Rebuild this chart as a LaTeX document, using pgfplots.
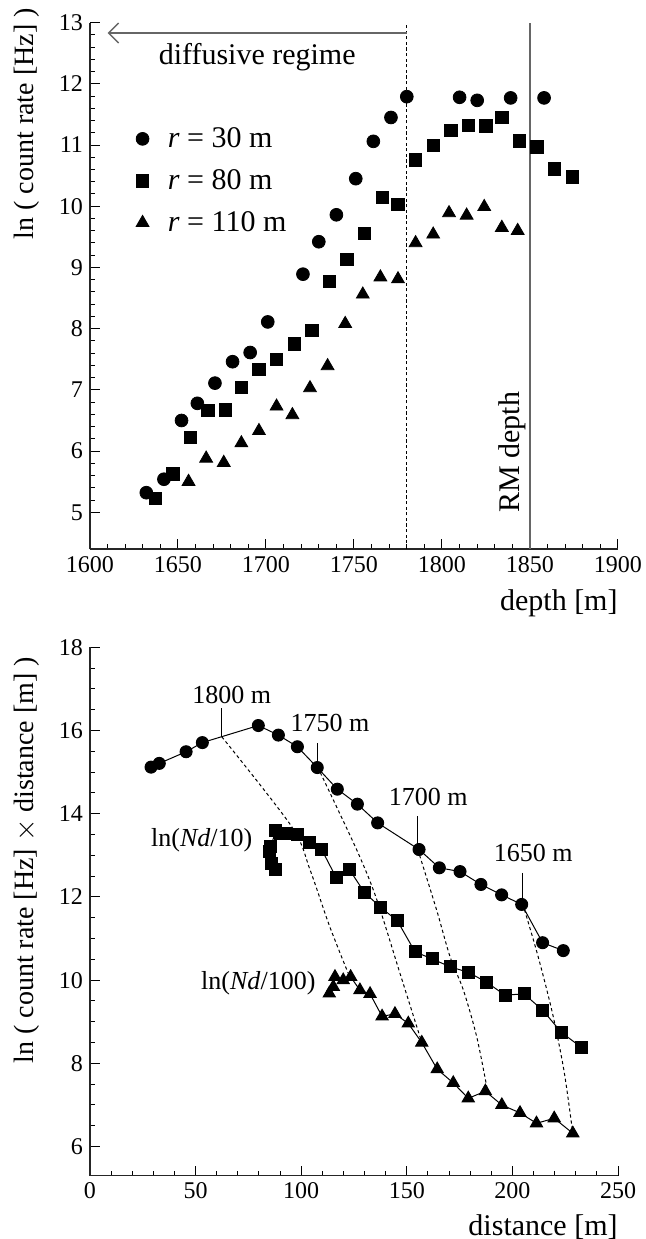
\documentclass[border=0pt]{standalone}
\usepackage{fontspec}
\setmainfont{Liberation Serif}
\usepackage{pgfplots}
\pgfplotsset{compat=1.18}
\usetikzlibrary{arrows.meta}

\newcommand{\tickfont}{\fontsize{12}{14}\selectfont}
\newcommand{\labfont}{\fontsize{15}{18}\selectfont}
\newcommand{\ylabfont}{\fontsize{14}{17}\selectfont}
\newcommand{\annfont}{\fontsize{13}{15}\selectfont}

\pgfplotsset{
  myaxis/.style={
    scale only axis, width=264pt,
    axis x line=bottom, axis y line=left,
    axis line style={-, line width=0.6pt, black!85},
    tick align=inside, major tick length=5pt, minor tick length=2.5pt,
    every tick/.style={black, line width=0.5pt},
    tick label style={font=\tickfont},
    /pgf/number format/assume math mode=true,
    /pgf/number format/set thousands separator={},
    clip=false,
    xlabel style={font=\labfont, inner sep=0pt, anchor=east, at={(axis description cs:1,0)}},
    ylabel style={font=\ylabfont, anchor=center},
  }
}

\begin{document}
\begin{tikzpicture}
\path[use as bounding box] (-45pt,-345pt) rectangle (277.5pt,274.5pt);

% ---------------- top panel ----------------
\begin{axis}[myaxis, height=263.2pt,
  xmin=1600, xmax=1900, ymin=4.4, ymax=13,
  xtick={1600,1650,...,1900}, minor x tick num=4,
  ytick={5,6,...,13}, minor y tick num=4,
  xlabel={depth [m]}, ylabel={ln ( count rate [Hz] )},
  xlabel style={yshift=-27pt},
  ylabel style={at={(axis description cs:-0.119,0.808)}},
  legend style={draw=none, fill=none, font=\labfont, at={(axis cs:1626,11.36)}, anchor=north west,
    row sep=5.5pt, column sep=7.5pt, inner sep=0pt},
  legend cell align=left,
]
\addplot[only marks, mark=*, mark size=3.2pt, black] coordinates {
(1632,5.32)(1642,5.54)(1652,6.50)(1661,6.78)(1671,7.11)(1681,7.46)(1691,7.61)(1701,8.11)
(1721,8.89)(1730,9.42)(1740,9.86)(1751,10.45)(1761,11.06)(1771,11.45)(1780,11.79)
(1810,11.78)(1820,11.73)(1839,11.77)(1858,11.77)};
\addlegendentry{\textit{r} = 30 m}
\addplot[only marks, mark=square*, mark size=3.1pt, black] coordinates {
(1637,5.23)(1647,5.63)(1657,6.22)(1667,6.66)(1677,6.67)(1686,7.04)(1696,7.33)(1706,7.50)
(1716,7.75)(1726,7.97)(1736,8.77)(1746,9.13)(1756,9.56)(1766,10.14)(1775,10.03)(1785,10.76)
(1795,10.99)(1805,11.24)(1815,11.32)(1825,11.31)(1834,11.45)(1844,11.07)(1854,10.97)
(1864,10.61)(1874,10.48)};
\addlegendentry{\textit{r} = 80 m}
\addplot[only marks, mark=triangle*, mark size=3.7pt, black] coordinates {
(1656,5.50)(1666,5.88)(1676,5.81)(1686,6.13)(1696,6.33)(1706,6.73)(1715,6.59)(1725,7.03)
(1735,7.39)(1745,8.08)(1755,8.56)(1765,8.84)(1775,8.81)(1785,9.40)(1795,9.54)(1804,9.89)
(1814,9.85)(1824,9.99)(1834,9.65)(1843,9.60)};
\addlegendentry{\textit{r} = 110 m}

\draw[black, line width=0.6pt, dash pattern=on 1.6pt off 1.2pt] (axis cs:1780,4.4) -- (axis cs:1780,13);
\draw[black!60, line width=0.8pt] (axis cs:1850,4.4) -- (axis cs:1850,13);
\draw[black!60, line width=0.7pt, -{Straight Barb[length=5pt,width=10pt]}] (axis cs:1780,12.83) -- (axis cs:1610,12.83);
\node[font=\labfont] at (axis cs:1695,12.44) {diffusive regime};
\node[font=\labfont, rotate=90] at (axis cs:1840,5.98) {RM depth};
\end{axis}

% ---------------- bottom panel ----------------
\begin{axis}[myaxis, height=264.2pt, at={(0,-313.35pt)},
  xmin=0, xmax=250, ymin=5.3, ymax=18,
  xtick={0,50,...,250}, minor x tick num=4,
  ytick={6,8,...,18}, minor y tick num=3,
  xlabel={distance [m]}, ylabel={ln ( count rate [Hz] $\times$ distance [m] )},
  xlabel style={yshift=-25.5pt},
  ylabel style={at={(axis description cs:-0.119,0.597)}},
]
% constant-depth dashed curves
\addplot[black, line width=0.5pt, dash pattern=on 1.6pt off 1.4pt, smooth, tension=0.5] coordinates {
(62.4,15.85)(95.5,13.69)(104.2,12.65)(113.2,11.33)(122.3,10.16)};
\addplot[black, line width=0.5pt, dash pattern=on 1.6pt off 1.4pt, smooth, tension=0.5] coordinates {
(107.8,15.12)(126.3,13.13)(135.7,11.95)(146.8,10.16)(157.1,8.50)};
\addplot[black, line width=0.5pt, dash pattern=on 1.6pt off 1.4pt, smooth, tension=0.5] coordinates {
(155.2,13.14)(164.1,11.69)(170.5,10.56)(176.8,9.76)(183.1,8.64)(188.0,7.40)};
\addplot[black, line width=0.5pt, dash pattern=on 1.6pt off 1.4pt, smooth, tension=0.5] coordinates {
(204.9,11.83)(212.0,10.60)(219.0,9.20)(224.5,7.80)(228.6,6.32)};

% depth label ticks
\addplot[black, line width=0.5pt] coordinates {(62.4,16.54)(62.4,15.85)};
\addplot[black, line width=0.5pt] coordinates {(107.8,15.70)(107.8,15.12)};
\addplot[black, line width=0.5pt] coordinates {(155.2,13.94)(155.2,13.14)};
\addplot[black, line width=0.5pt] coordinates {(204.9,12.58)(204.9,11.83)};

\addplot[black, line width=0.5pt, mark=*, mark size=3pt, mark options={solid, fill=black}] coordinates {
(28.9,15.12)(32.8,15.21)(45.5,15.49)(53.2,15.71)(79.7,16.12)(89.2,15.89)(98.2,15.61)(107.6,15.11)
(117.1,14.59)(126.6,14.23)(136.2,13.78)(155.8,13.14)(165.4,12.70)(175.2,12.61)(185.1,12.30)
(194.9,12.05)(204.4,11.82)(214.3,10.90)(224.1,10.71)};
\addplot[black, line width=0.5pt, mark=square*, mark size=3pt, mark options={solid, fill=black}] coordinates {
(232.8,8.38)(223.3,8.74)(214.3,9.28)(205.5,9.67)(196.5,9.64)(187.8,9.95)(179.1,10.19)(170.5,10.32)
(162.1,10.51)(153.9,10.68)(145.5,11.43)(137.6,11.75)(129.9,12.11)(122.8,12.66)(116.5,12.47)
(109.7,13.14)(103.8,13.31)(98.2,13.49)(92.7,13.53)(90.0,13.52)(87.9,13.59)(85.7,13.22)
(85.2,13.10)(86.0,12.80)(87.6,12.65)};
\addplot[black, line width=0.5pt, mark=triangle*, mark size=3.5pt, mark options={solid, fill=black}] coordinates {
(228.6,6.32)(219.8,6.68)(211.4,6.56)(203.6,6.81)(195.0,7.00)(187.2,7.33)(179.1,7.16)(172.0,7.53)
(164.4,7.86)(157.1,8.50)(150.7,8.96)(144.4,9.19)(138.3,9.13)(132.6,9.67)(127.8,9.76)
(123.4,10.08)(119.9,10.00)(116.0,10.08)(115.2,9.84)(113.3,9.68)};

\node[font=\annfont] at (axis cs:67.1,16.85) {1800 m};
\node[font=\annfont] at (axis cs:113.6,16.18) {1750 m};
\node[font=\annfont] at (axis cs:160.2,14.41) {1700 m};
\node[font=\annfont] at (axis cs:209.9,13.05) {1650 m};
\node[font=\annfont] at (axis cs:52.9,13.37) {ln(\textit{Nd}/10)};
\node[font=\annfont] at (axis cs:79.7,9.92) {ln(\textit{Nd}/100)};
\end{axis}
\end{tikzpicture}
\end{document}
